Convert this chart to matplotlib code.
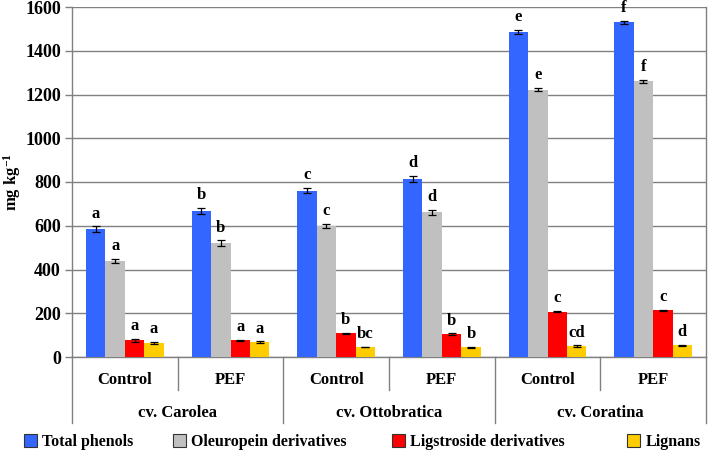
import matplotlib
matplotlib.use("Agg")
import matplotlib.pyplot as plt
import matplotlib.transforms as mtransforms
from matplotlib.patches import Patch
import numpy as np

treatments = ["Control", "PEF", "Control", "PEF", "Control", "PEF"]
cultivars = ["cv. Carolea", "cv. Ottobratica", "cv. Coratina"]
series_names = ["Total phenols", "Oleuropein derivatives", "Ligstroside derivatives", "Lignans"]

total = [585, 668, 760, 815, 1485, 1530]
total_err = [12, 14, 11, 13, 10, 7]
oleu = [440, 520, 600, 662, 1222, 1260]
oleu_err = [10, 13, 9, 12, 8, 6]
ligs = [76, 77, 108, 105, 207, 213]
ligs_err = [6, 3, 4, 3, 2, 4]
lign = [65, 68, 46, 44, 50, 53]
lign_err = [4, 3, 2, 2, 3, 3]

total_let = ["a", "b", "c", "d", "e", "f"]
oleu_let = ["a", "b", "c", "d", "e", "f"]
ligs_let = ["a", "a", "b", "b", "c", "c"]
lign_let = ["a", "a", "bc", "b", "cd", "d"]

colors = ["#3366FF", "#C0C0C0", "#FF0000", "#FFCC00"]

plt.rcParams['font.family'] = ['Liberation Serif', 'DejaVu Serif']
plt.rcParams['font.weight'] = 'bold'
plt.rcParams['mathtext.fontset'] = 'custom'
plt.rcParams['mathtext.rm'] = 'Liberation Serif:bold'
plt.rcParams['mathtext.bf'] = 'Liberation Serif:bold'
plt.rcParams['mathtext.it'] = 'Liberation Serif:bold'

fig = plt.figure(figsize=(7.08, 4.53), dpi=100)
ax = fig.add_axes([72/708, (453-357)/453, (706-72)/708, 350/453])

x = np.arange(len(treatments))
w = 0.1835
all_vals = [total, oleu, ligs, lign]
all_err = [total_err, oleu_err, ligs_err, lign_err]
all_let = [total_let, oleu_let, ligs_let, lign_let]
for i, (vals, errs, lets, c) in enumerate(zip(all_vals, all_err, all_let, colors)):
    pos = x + (i - 1.5) * w
    ax.bar(pos, vals, width=w, color=c, edgecolor='none', zorder=3)
    ax.errorbar(pos, vals, yerr=errs, fmt='none', ecolor='black', elinewidth=0.9,
                capsize=3, capthick=0.9, zorder=4)
    for p, v, e, l in zip(pos, vals, errs, lets):
        ax.annotate(l, (p, v + e), xytext=(0, 3.5), textcoords='offset points',
                    ha='center', va='bottom', fontsize=12, fontweight='bold',
                    annotation_clip=False)

ax.set_xlim(-0.5, 5.5)
ax.set_ylim(0, 1600)
ax.set_yticks(np.arange(0, 1601, 200))
ax.yaxis.grid(True, color='#808080', linewidth=1.0, zorder=0)
ax.set_axisbelow(True)
ax.tick_params(axis='y', length=5, width=1, color='#808080', labelsize=13, pad=3)
for lab in ax.get_yticklabels():
    lab.set_fontweight('bold')
ax.set_xticks([])
ax.spines['top'].set_visible(False)
for s in ax.spines.values():
    s.set_color('#808080')
    s.set_linewidth(1.0)
ax.set_ylabel("mg kg$^{-1}$", fontsize=12, fontweight='bold')
ax.yaxis.set_label_coords(-0.078, 0.5)

trans = mtransforms.blended_transform_factory(ax.transData, ax.transAxes)
for xs in [0.5, 2.5, 4.5]:
    ax.plot([xs, xs], [0, -0.094], transform=trans, color='#808080', lw=1.0, clip_on=False)
for xs in [-0.5, 1.5, 3.5, 5.5]:
    ax.plot([xs, xs], [0, -0.189], transform=trans, color='#808080', lw=1.0, clip_on=False)
for xi, t in zip(x, treatments):
    ax.text(xi, -0.066, t, transform=trans, ha='center', va='center', fontsize=12, fontweight='bold')
for k, cv in enumerate(cultivars):
    ax.text(2 * k + 0.5, -0.160, cv, transform=trans, ha='center', va='center', fontsize=12, fontweight='bold')

leg_x = [24, 173, 392, 627]
for name, c, lx in zip(series_names, colors, leg_x):
    h = Patch(facecolor=c, edgecolor='#333333', linewidth=0.8)
    fig.legend(handles=[h], labels=[name], loc='center left',
               bbox_to_anchor=(lx/708, 1 - 442/453), frameon=False,
               handlelength=0.8, handleheight=0.8, handletextpad=0.35,
               borderpad=0, borderaxespad=0,
               prop={'weight': 'bold', 'size': 11.5, 'family': 'Liberation Serif'})

fig.savefig("out.png", dpi=100)
